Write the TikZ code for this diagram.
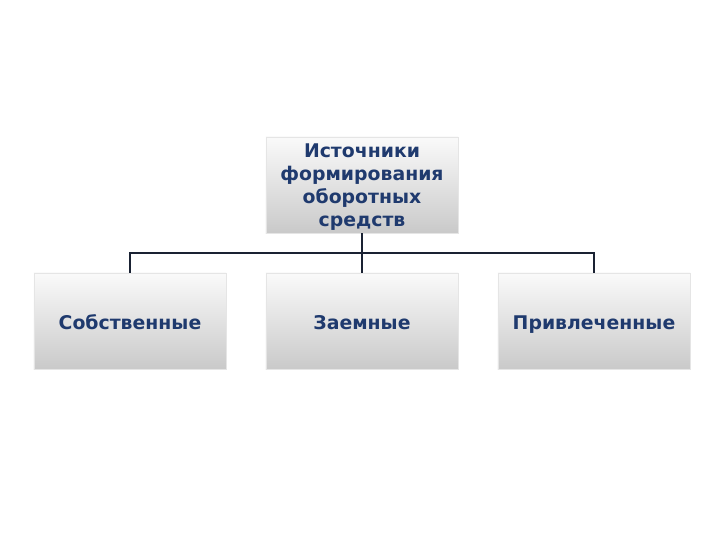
\documentclass[tikz,border=0pt]{standalone}
\usepackage{fontspec}
\setmainfont{DejaVu Sans}
\usetikzlibrary{positioning}
\definecolor{textblue}{HTML}{1F3A6E}
\definecolor{linenavy}{HTML}{1A2233}

\begin{document}
\begin{tikzpicture}[x=0.025cm, y=-0.025cm,
    box/.style={top color=gray!4, bottom color=gray!42, draw=gray!20,
        minimum width=4.8cm, minimum height=2.4cm, inner sep=1pt,
        align=center, text=textblue, font=\bfseries\fontsize{13.4}{16.4}\selectfont},
    kind/.style={box, text height=12pt, text depth=0pt},
    link/.style={draw=linenavy, line width=0.9pt}]
    \useasboundingbox (0,0) rectangle (720,540); % frame

    \node[box, text depth=0pt, execute at begin node=\strut] (src) at (362,185)
        {Источники\\формирования\\оборотных\\средств};
    \node[kind] (own) at (130,321) {Собственные};
    \node[kind] (loan) at (362,321) {Заемные};
    \node[kind] (attr) at (594,321) {Привлеченные};

    \coordinate (bus) at (362,253);

    \draw[link] (src.south) -- (bus);
    \draw[link] (bus) -| (own.north);
    \draw[link] (bus) -- (loan.north);
    \draw[link] (bus) -| (attr.north);
\end{tikzpicture}
\end{document}
